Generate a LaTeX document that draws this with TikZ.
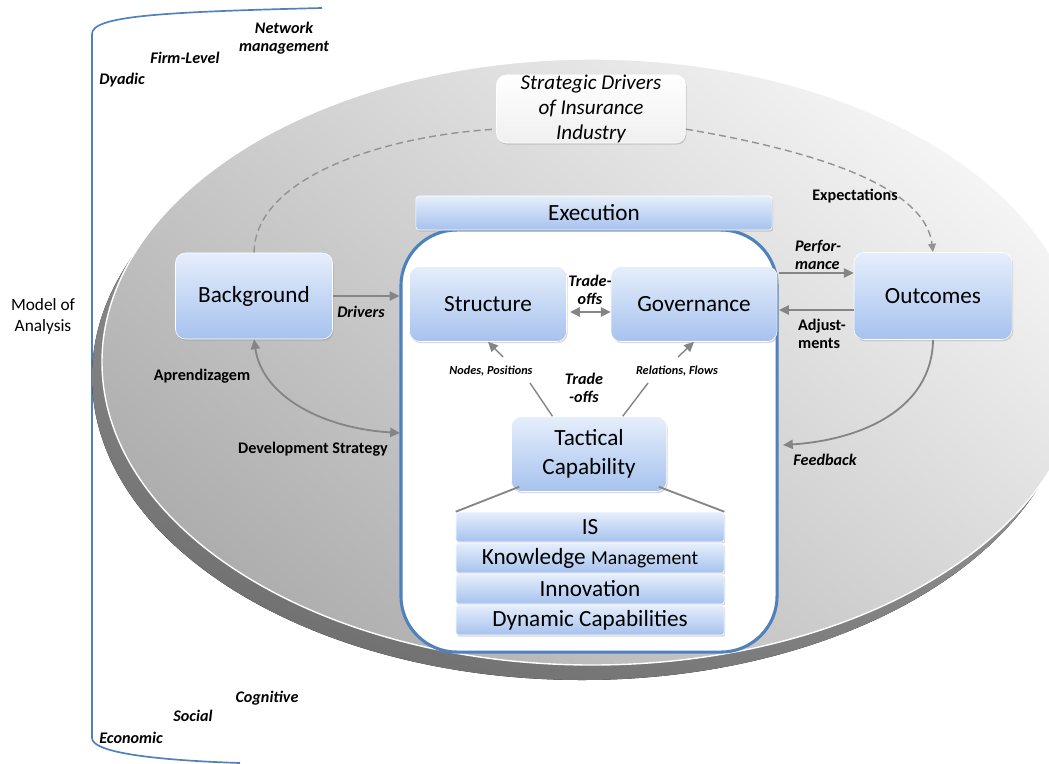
\documentclass[tikz,border=0pt]{standalone}
\usepackage{fontspec}
\setmainfont{Carlito}
\usetikzlibrary{arrows.meta,shadows}
\definecolor{frameblue}{HTML}{4F81BD}
\definecolor{boxtop}{HTML}{E6EEFB}
\definecolor{boxbot}{HTML}{A6C2EE}
\definecolor{arrgray}{HTML}{858585}
\definecolor{facelight}{HTML}{F4F4F4}
\definecolor{facedark}{HTML}{AEAEAE}
\definecolor{sidelight}{HTML}{A8A8A8}
\definecolor{sidedark}{HTML}{707070}
\tikzset{
  box/.style={rectangle, rounded corners=0.25cm, top color=boxtop, bottom color=boxbot,
    draw=white, line width=0.4pt, inner sep=0pt, align=center,
    font=\fontsize{16.5}{21}\selectfont,
    drop shadow={opacity=0.3, shadow xshift=0.8pt, shadow yshift=-1.2pt}},
  layer/.style={box, rounded corners=0.06cm, minimum width=6.7cm, minimum height=0.75cm},
  sdibox/.style={box, top color=white, bottom color=white!94!black},
  lab/.style={font=\fontsize{11.5}{13}\selectfont\bfseries, align=center},
  labit/.style={font=\fontsize{11.5}{13}\selectfont\bfseries\itshape, align=center},
  tinylab/.style={font=\fontsize{8.7}{10}\selectfont\bfseries\itshape},
  arr/.style={draw=arrgray, line width=1.3pt, -{Triangle[length=7pt,width=6.5pt]}},
  dblarr/.style={arr, {Triangle[length=7pt,width=6.5pt]}-{Triangle[length=7pt,width=6.5pt]}},
  ln/.style={draw=arrgray, line width=1.3pt},
  dashlink/.style={draw=gray!85, line width=1pt, dash pattern=on 5pt off 3pt}
}
\begin{document}
\begin{tikzpicture}[x=0.025cm, y=-0.025cm]
\useasboundingbox (0,0) rectangle (1049,763);
\clip (0,0) rectangle (1049,763);

% levels of analysis
\draw[frameblue, line width=1.2pt] (322,8) .. controls (160,12) and (92,16) .. (92,34)
  -- (92,738) .. controls (92,752) and (150,760) .. (240,763);
\node[align=center, font=\fontsize{12.3}{15}\selectfont] (model) at (43,316) {Model of\\Analysis};
\node[labit] (netw) at (284,38) {Network\\management};
\node[labit] (firm) at (185,58) {Firm-Level};
\node[labit] (dyad) at (122,80) {Dyadic};
\node[labit] (cogn) at (267,698) {Cognitive};
\node[labit] (soci) at (193,716) {Social};
\node[labit] (econ) at (131,738) {Economic};

% disc
\fill[top color=sidelight, bottom color=sidedark, shading angle=-20] (582,377) ellipse [x radius=490, y radius=303];
\path[top color=facelight, bottom color=facedark, shading angle=-40, draw=white, line width=1pt] (592,362) ellipse [x radius=490, y radius=303];

% strategic drivers
\node[sdibox, minimum width=4.725cm, minimum height=1.7cm, font=\fontsize{15}{17.8}\selectfont\itshape] (sdi) at (591,109) {Strategic Drivers\\of Insurance\\Industry};

% core
\node[draw=frameblue, fill=white, line width=2.2pt, rounded corners=1.4cm, minimum width=9.4cm, minimum height=10.55cm] (core) at (589,441) {};
\node[box, rounded corners=0.08cm, minimum width=8.9cm, minimum height=0.85cm] (exe) at (594,213) {Execution};

\node[box, minimum width=3.925cm, minimum height=2.15cm] (bg) at (254,296) {Background};
\node[box, minimum width=3.95cm, minimum height=2.175cm] (out) at (933,296) {Outcomes};
\node[box, minimum width=3.925cm, minimum height=1.875cm] (st) at (488,304) {Structure};
\node[box, minimum width=4.15cm, minimum height=1.875cm] (gov) at (694,304) {Governance};
\node[box, minimum width=3.875cm, minimum height=1.875cm] (tc) at (589,454) {Tactical\\Capability};

\node[layer] (is) at (590,527) {IS};
\node[layer] (km) at (590,558) {Knowledge {\fontsize{14}{17}\selectfont Management}};
\node[layer] (inn) at (590,589) {Innovation};
\node[layer] (dc) at (590,620) {Dynamic Capabilities};

% connectors
\draw[dashlink] (bg.north) .. controls (255,175) and (390,135) .. (sdi.192);
\draw[dashlink, -{Triangle[length=6pt,width=5.5pt]}] (sdi.348) .. controls (810,150) and (925,185) .. (out.north);

\draw[arr] (bg.east) -- (bg.east -| core.west);
\coordinate (devend) at (400,433);
\draw[dblarr] (bg.south) .. controls (262,395) and (320,428) .. (devend);

\coordinate (perfA) at (779,273);
\coordinate (adjA) at (779,310);
\draw[arr] (perfA) -- (perfA -| out.west);
\draw[arr] (adjA -| out.west) -- (adjA);
\coordinate (fbend) at (783,445);
\draw[arr] (out.south) .. controls (932,410) and (860,440) .. (fbend);

\coordinate (toA) at (570,312);
\draw[dblarr] (toA) -- (toA -| gov.west);

\coordinate (np1) at (530,383);
\coordinate (np2) at (503,357);
\coordinate (rf1) at (648,383);
\coordinate (rf2) at (678,357);
\draw[ln, line width=1pt] ([xshift=-26]tc.north) -- (np1);
\draw[arr, line width=1pt] (np2) -- (st.south);
\draw[ln, line width=1pt] ([xshift=24]tc.north) -- (rf1);
\draw[arr, line width=1pt] (rf2) -- (gov.south);

\draw[ln] ([shift={(8,-5)}]tc.south west) -- (is.north west);
\draw[ln] ([shift={(-8,-5)}]tc.south east) -- (is.north east);

% labels
\node[lab] (expe) at (855,196) {Expectations};
\node[labit] (driv) at (361,312) {Drivers};
\node[lab] (apre) at (202,376) {Aprendizagem};
\node[lab] (devs) at (313,449) {Development Strategy};
\node[labit, align=left] (perf) at (818,255) {Perfor-\\mance};
\node[lab, align=left] (adju) at (822,334) {Adjust-\\ments};
\node[labit] (feed) at (825,460) {Feedback};
\node[labit] (trd1) at (590,290) {Trade-\\offs};
\node[labit] (trd2) at (584,388) {Trade\\-offs};
\node[tinylab] (nopo) at (491,371) {Nodes, Positions};
\node[tinylab] (refl) at (677,371) {Relations, Flows};
\end{tikzpicture}
\end{document}
